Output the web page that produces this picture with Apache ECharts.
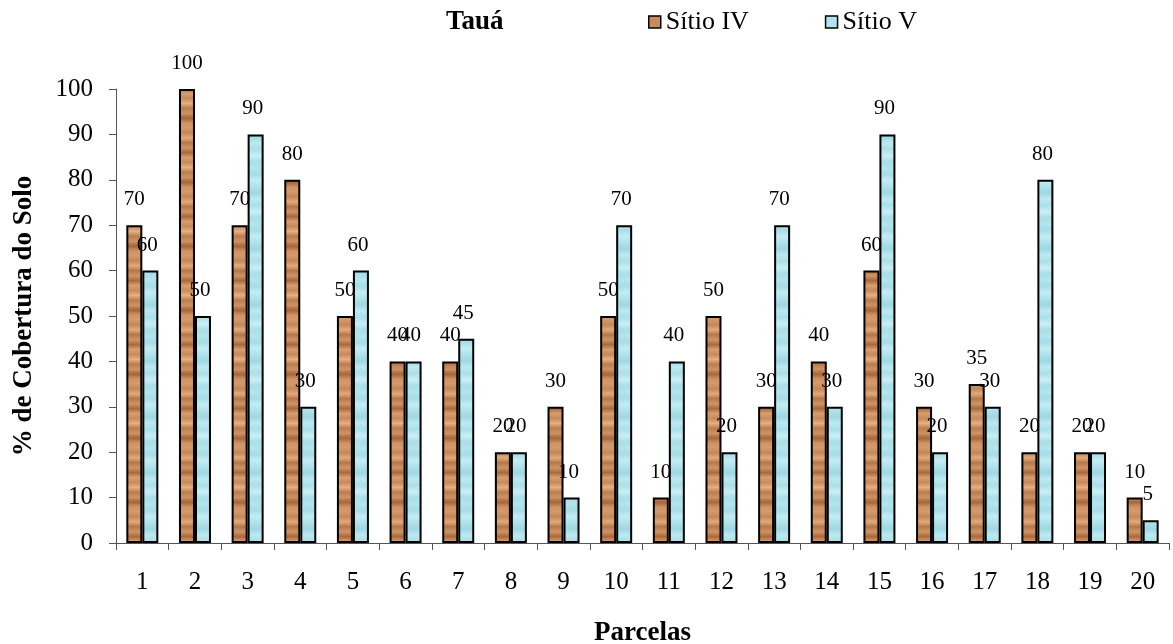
<!DOCTYPE html>
<html>
<head>
<meta charset="utf-8">
<script src="https://cdn.jsdelivr.net/npm/echarts@6/dist/echarts.min.js"></script>
<style>
  html, body { margin: 0; padding: 0; background: #fff; }
  #chart { width: 1173px; height: 644px; }
</style>
</head>
<body>
<div id="chart"></div>
<script>
// Parcelas (plots) and soil cover percentages per site
const parcelas = ['1','2','3','4','5','6','7','8','9','10','11','12','13','14','15','16','17','18','19','20'];
const sitioIV = [70, 100, 70, 80, 50, 40, 40, 20, 30, 50, 10, 50, 30, 40, 60, 30, 35, 20, 20, 10];
const sitioV  = [60, 50, 90, 30, 60, 40, 45, 20, 10, 70, 40, 20, 70, 30, 90, 20, 30, 80, 20, 5];
const yTicks = { min: 0, max: 100, interval: 10 };

// Soft banded fill built from a vertical gradient, tiled down the bar
function bandedPattern(height, stops) {
  const c = document.createElement('canvas');
  c.width = 16; c.height = height;
  const g = c.getContext('2d');
  const grad = g.createLinearGradient(0, 0, 0, height);
  stops.forEach((col, i) => grad.addColorStop(i / (stops.length - 1), col));
  g.fillStyle = grad;
  g.fillRect(0, 0, c.width, c.height);
  return c;
}
const woodFill = bandedPattern(64, [
  '#d49a6a', '#c58658', '#e2aa7a', '#b5774a', '#cf9465', '#a96a3e', '#d89e6e',
  '#c88a5b', '#e6b080', '#bb7c4f', '#d09366', '#a56639', '#cf9466', '#d49a6a'
]);
const waterFill = bandedPattern(56, [
  '#b4e5ed', '#a6dde8', '#c3ecf2', '#afe2eb', '#9ed8e4', '#bde9f0', '#aadfe9',
  '#c9eff4', '#a9dee8', '#b4e5ed'
]);

const font = '"Liberation Serif", "Times New Roman", serif';
const chart = echarts.init(document.getElementById('chart'), null, { renderer: 'canvas' });

function labelStyle(dx) {
  return {
    show: true,
    position: 'top',
    distance: 15,
    offset: [dx, 0],
    fontFamily: font,
    fontSize: 21,
    color: '#000'
  };
}

chart.setOption({
  animation: false,
  title: {
    text: 'Tauá',
    left: 441,
    top: 4,
    textStyle: { fontFamily: font, fontSize: 27, fontWeight: 'bold', color: '#000' }
  },
  legend: {
    left: 643,
    top: 4,
    icon: 'rect',
    itemWidth: 12,
    itemHeight: 12,
    itemGap: 76,
    textStyle: { fontFamily: font, fontSize: 26, color: '#000' },
    data: [
      { name: 'Sítio IV', itemStyle: { color: '#c98a5c', borderColor: '#000', borderWidth: 1.5 } },
      { name: 'Sítio V', itemStyle: { color: '#b2e4ec', borderColor: '#000', borderWidth: 1.5 } }
    ]
  },
  grid: { left: 116, right: 4, top: 89, bottom: 101, containLabel: false, outerBoundsMode: 'none' },
  xAxis: {
    type: 'category',
    data: parcelas,
    name: 'Parcelas',
    nameLocation: 'middle',
    nameGap: 77,
    nameTextStyle: { fontFamily: font, fontSize: 27, fontWeight: 'bold', color: '#000' },
    axisLine: { lineStyle: { color: '#555', width: 1 } },
    axisTick: { show: true, length: 7, lineStyle: { color: '#555' } },
    axisLabel: { fontFamily: font, fontSize: 25, color: '#000', margin: 27 }
  },
  yAxis: {
    type: 'value',
    min: yTicks.min,
    max: yTicks.max,
    interval: yTicks.interval,
    name: '% de Cobertura do Solo',
    nameLocation: 'middle',
    nameGap: 78,
    nameTextStyle: { fontFamily: font, fontSize: 27, fontWeight: 'bold', color: '#000' },
    axisLine: { show: true, lineStyle: { color: '#555', width: 1 } },
    axisTick: { show: true, length: 7, lineStyle: { color: '#555' } },
    axisLabel: { fontFamily: font, fontSize: 25, color: '#000', margin: 23 },
    splitLine: { show: false }
  },
  series: [
    {
      name: 'Sítio IV',
      type: 'bar',
      data: sitioIV,
      barWidth: 16,
      barGap: '0%',
      itemStyle: { color: { image: woodFill, repeat: 'repeat' }, borderColor: '#000', borderWidth: 2 },
      label: labelStyle(0)
    },
    {
      name: 'Sítio V',
      type: 'bar',
      data: sitioV,
      barWidth: 16,
      barGap: '0%',
      itemStyle: { color: { image: waterFill, repeat: 'repeat' }, borderColor: '#000', borderWidth: 2 },
      label: labelStyle(-3)
    }
  ]
});
</script>
</body>
</html>
